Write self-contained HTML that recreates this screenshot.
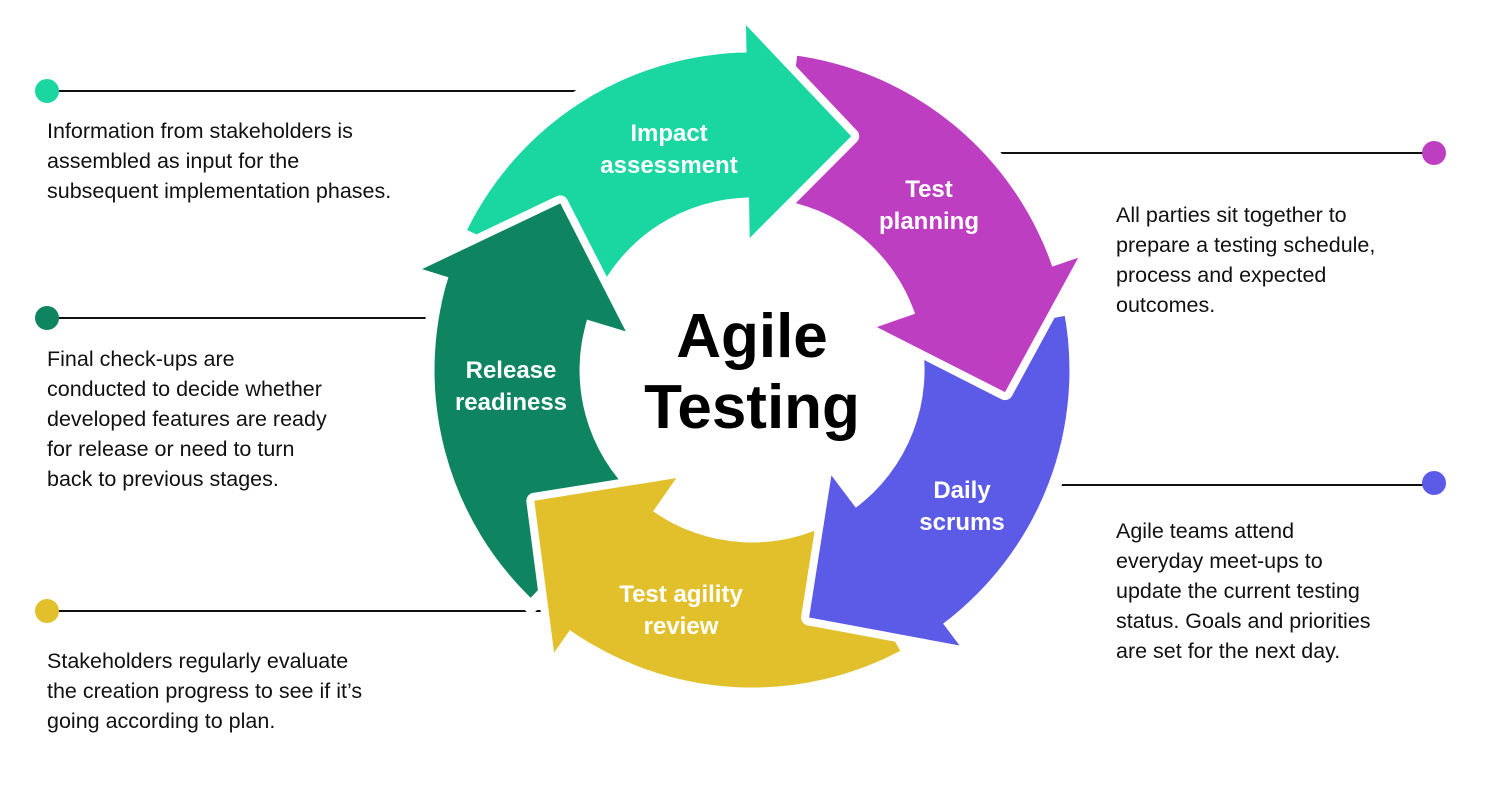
<!DOCTYPE html>
<html><head><meta charset="utf-8"><style>
body{margin:0;background:#fff;}
svg{display:block;}
text{font-family:"Liberation Sans",sans-serif;}
.d{font-size:21.5px;fill:#111;}
.l{font-size:24px;font-weight:bold;fill:#fff;text-anchor:middle;}
</style></head><body>
<svg id="s" width="1508" height="812" viewBox="0 0 1508 812">
<line x1="47" y1="91" x2="610" y2="91" stroke="#111" stroke-width="2"/>
<line x1="47" y1="318" x2="440" y2="318" stroke="#111" stroke-width="2"/>
<line x1="47" y1="611" x2="545" y2="611" stroke="#111" stroke-width="2"/>
<line x1="970" y1="153" x2="1434" y2="153" stroke="#111" stroke-width="2"/>
<line x1="1050" y1="485" x2="1434" y2="485" stroke="#111" stroke-width="2"/>
<circle cx="47" cy="91" r="12" fill="#1AD6A0"/>
<circle cx="47" cy="318" r="12" fill="#0F8460"/>
<circle cx="47" cy="611" r="12" fill="#E2C02B"/>
<circle cx="1434" cy="153" r="12" fill="#BE3EC2"/>
<circle cx="1434" cy="483" r="12" fill="#5B5BE8"/>
<g id="arrows"></g>
<text class="d" x="47" y="138">Information from stakeholders is</text>
<text class="d" x="47" y="168">assembled as input for the</text>
<text class="d" x="47" y="198">subsequent implementation phases.</text>
<text class="d" x="47" y="366">Final check-ups are</text>
<text class="d" x="47" y="396">conducted to decide whether</text>
<text class="d" x="47" y="426">developed features are ready</text>
<text class="d" x="47" y="456">for release or need to turn</text>
<text class="d" x="47" y="486">back to previous stages.</text>
<text class="d" x="47" y="668">Stakeholders regularly evaluate</text>
<text class="d" x="47" y="698">the creation progress to see if it’s</text>
<text class="d" x="47" y="728">going according to plan.</text>
<text class="d" x="1116" y="222">All parties sit together to</text>
<text class="d" x="1116" y="252">prepare a testing schedule,</text>
<text class="d" x="1116" y="282">process and expected</text>
<text class="d" x="1116" y="312">outcomes.</text>
<text class="d" x="1116" y="538">Agile teams attend</text>
<text class="d" x="1116" y="568">everyday meet-ups to</text>
<text class="d" x="1116" y="598">update the current testing</text>
<text class="d" x="1116" y="628">status. Goals and priorities</text>
<text class="d" x="1116" y="658">are set for the next day.</text>
<g id="labels">
<text class="l" x="669" y="141">Impact</text><text class="l" x="669" y="173">assessment</text>
<text class="l" x="929" y="197">Test</text><text class="l" x="929" y="229">planning</text>
<text class="l" x="962" y="498">Daily</text><text class="l" x="962" y="530">scrums</text>
<text class="l" x="681" y="602">Test agility</text><text class="l" x="681" y="634">review</text>
<text class="l" x="511" y="378">Release</text><text class="l" x="511" y="410">readiness</text>
</g>
<text x="752" y="357" font-size="62" font-weight="bold" text-anchor="middle" fill="#000">Agile</text>
<text x="752" y="428" font-size="62" font-weight="bold" text-anchor="middle" fill="#000">Testing</text>
</svg>
<script>
var cx=752,cy=370,RO=324,RI=166,HO=345,HI=132,TR=254;
function P(r,a){a=a*Math.PI/180;return (cx+r*Math.sin(a)).toFixed(1)+","+(cy-r*Math.cos(a)).toFixed(1);}
var cols=["#1AD6A0","#BE3EC2","#5B5BE8","#E2C02B","#0F8460"];
var g=document.getElementById("arrows"),html="";
function body(i){
 var b=-1+72*i,s=b-64;
 var d="M"+P(RO,s)+" A"+RO+","+RO+" 0 0 1 "+P(RO,b)+" L"+P(RI,b)+" A"+RI+","+RI+" 0 0 0 "+P(RI,s)+" Z";
 return '<path d="'+d+'" fill="'+cols[i]+'" stroke="#fff" stroke-width="13" stroke-linejoin="round"/>';
}
function head(i){
 var b=-1+72*i,t=b+24,ro=RO-6.5,ri=RI+6.5;
 var so="M"+P(HO,b)+" L"+P(TR,t)+" L"+P(HI,b);
 var f="M"+P(ro,b-5)+" A"+ro+","+ro+" 0 0 1 "+P(ro,b)+" L"+P(HO,b)+" L"+P(TR,t)+" L"+P(HI,b)+" L"+P(ri,b)+" A"+ri+","+ri+" 0 0 0 "+P(ri,b-5)+" Z";
 return '<path d="'+so+'" fill="none" stroke="#fff" stroke-width="16" stroke-linejoin="round" stroke-linecap="butt"/>'+
  '<path d="'+f+'" fill="'+cols[i]+'"/>';
}
for(var i=0;i<5;i++)html+=body(i);
for(var i=0;i<5;i++)html+=head(i);
g.innerHTML=html;
</script>
</body></html>
